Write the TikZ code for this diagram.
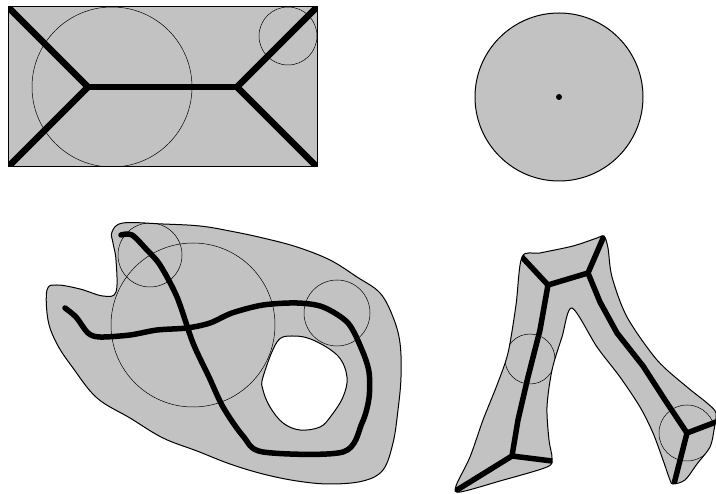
\documentclass[tikz,border=0pt]{standalone}
\usetikzlibrary{calc}

\tikzset{
  region/.style={fill=black!24, draw=black, line width=1pt},
  ball/.style={draw=black, line width=0.5pt},
  skel/.style={draw=black, line width=5.5pt, line join=round, line cap=round}
}

\begin{document}
\begin{tikzpicture}[x=1pt, y=-1pt]
  \useasboundingbox (0,0) rectangle (716,494);

  % Rectangle and its medial axis
  \draw[region] (8,7) rectangle (317,167);
  \coordinate (rl) at (88,87);
  \coordinate (rr) at (237,87);
  \begin{scope}
    \clip (8,7) rectangle (317,167);
    \draw[ball] (112,87) circle (80pt);
    \draw[ball] (288,36) circle (29pt);
    \draw[skel, line width=6.5pt] (8,7) -- (rl) -- (8,167);
    \draw[skel, line width=6.5pt] (rl) -- (rr);
    \draw[skel, line width=6.5pt] (317,7) -- (rr) -- (317,167);
  \end{scope}
  \draw[black, line width=1pt] (8,7) rectangle (317,167);

  % Disc and its centre
  \draw[region] (559,97) circle (84pt);
  \fill (559,97) circle (3pt);

  % Blob with a hole
  \draw[region, even odd rule] plot[smooth cycle, tension=0.6] coordinates {
    (112,232) (123,223) (163,224) (200,226) (230,231) (263,238) (297,247)
    (330,260) (357,277) (380,293) (393,317) (400,343) (401,377) (398,410)
    (393,443) (383,470) (363,481) (330,484) (297,481) (263,474) (230,464)
    (197,451) (163,438) (130,418) (97,398) (73,368) (57,344) (48,320)
    (47,290) (57,285) (80,289) (103,296) (116,292) (116,260) (113,243)}
    plot[smooth cycle, tension=0.6] coordinates {
    (263,377) (277,342) (292,336) (313,340) (338,356) (347,377) (343,397)
    (331,416) (320,427) (300,430) (283,423) (270,407) (263,390)};
  \begin{scope}[even odd rule]
    \clip plot[smooth cycle, tension=0.6] coordinates {
    (112,232) (123,223) (163,224) (200,226) (230,231) (263,238) (297,247)
    (330,260) (357,277) (380,293) (393,317) (400,343) (401,377) (398,410)
    (393,443) (383,470) (363,481) (330,484) (297,481) (263,474) (230,464)
    (197,451) (163,438) (130,418) (97,398) (73,368) (57,344) (48,320)
    (47,290) (57,285) (80,289) (103,296) (116,292) (116,260) (113,243)}
    plot[smooth cycle, tension=0.6] coordinates {
    (263,377) (277,342) (292,336) (313,340) (338,356) (347,377) (343,397)
    (331,416) (320,427) (300,430) (283,423) (270,407) (263,390)};
    \draw[ball] (193,325) circle (82pt);
    \draw[ball] (150,255) circle (32pt);
    \draw[ball] (337,313) circle (33pt);
  \end{scope}
  \draw[skel] plot[smooth, tension=0.5] coordinates {
    (65,308) (76,317) (88,333) (100,337) (130,335) (157,330) (187,328)
    (210,323) (232,313) (263,305) (297,303) (323,307) (348,323) (362,350)
    (369,372) (369,398) (362,423) (343,452) (263,452) (243,436) (223,407)
    (209,377) (193,343) (177,297) (160,265) (147,250) (132,235) (121,235)};

  % Branching shape
  \draw[region] plot[smooth cycle, tension=0.5] coordinates {
    (522,257) (540,253) (573,246) (597,238) (604,236) (608,248) (612,277)
    (627,317) (657,360) (687,387) (707,403) (716,413) (714,430) (710,447)
    (697,464) (685,480) (673,484) (670,480) (663,460) (653,433) (640,407)
    (620,377) (597,347) (572,308) (562,337) (552,370) (547,407) (549,440)
    (552,458) (547,467) (500,481) (460,492) (456,486) (470,457) (483,420)
    (497,385) (508,353) (516,305)};
  \coordinate (tl) at (548,285);
  \coordinate (tr) at (588,273);
  \coordinate (bl) at (512,456);
  \coordinate (br) at (687,433);
  \begin{scope}
    \clip plot[smooth cycle, tension=0.5] coordinates {
    (522,257) (540,253) (573,246) (597,238) (604,236) (608,248) (612,277)
    (627,317) (657,360) (687,387) (707,403) (716,413) (714,430) (710,447)
    (697,464) (685,480) (673,484) (670,480) (663,460) (653,433) (640,407)
    (620,377) (597,347) (572,308) (562,337) (552,370) (547,407) (549,440)
    (552,458) (547,467) (500,481) (460,492) (456,486) (470,457) (483,420)
    (497,385) (508,353) (516,305)};
    \draw[ball] (530,359) circle (25pt);
    \draw[ball] (687,433) circle (28pt);
    \draw[skel] (521,256) -- (tl) -- (tr) -- (604,236);
    \draw[skel] (tl) -- (540,330) -- (528,377) -- (518,420) -- (bl);
    \draw[skel] (457,490) -- (bl) -- (552,461);
    \draw[skel] (tr) -- (600,302) -- (617,333) -- (643,366) -- (665,400) -- (br);
    \draw[skel] (716,422) -- (br) -- (674,484);
  \end{scope}
\end{tikzpicture}
\end{document}
